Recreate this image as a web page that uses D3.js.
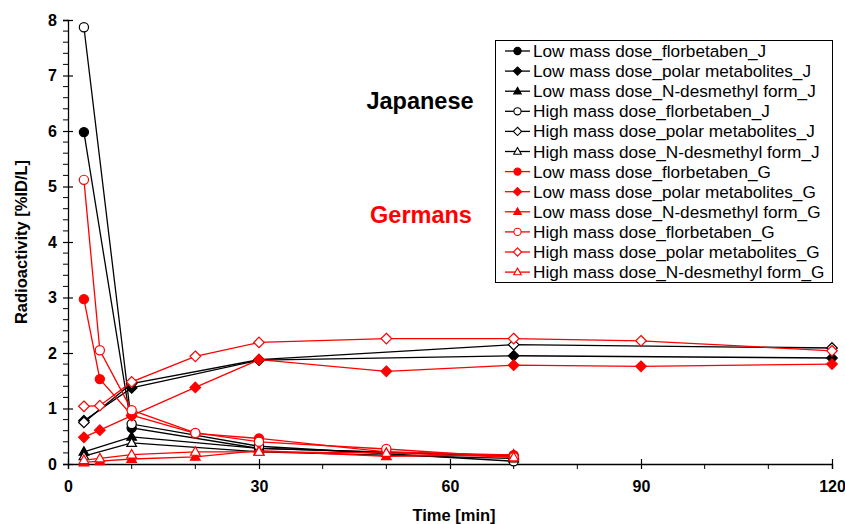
<!DOCTYPE html>
<html><head><meta charset="utf-8">
<script src="https://cdn.jsdelivr.net/npm/d3@7"></script>
<style>body{margin:0;background:#fff}svg{display:block;font-family:"Liberation Sans",Arial,sans-serif}</style>
</head><body><svg id="c" width="845" height="524"></svg>
<script>
const timesJ = [2.5, 10, 30, 70];
const timesJpolar = [2.5, 10, 30, 70, 120];
const timesG = [2.5, 5, 10, 20, 30, 50, 70];
const timesGpolar = [2.5, 5, 10, 20, 30, 50, 70, 90, 120];

const lowFlorJ   = [5.98, 0.65, 0.28, 0.14];
const lowPolarJ  = [0.78, 1.37, 1.87, 1.95, 1.91];
const lowNdesJ   = [0.22, 0.49, 0.28, 0.15];
const highFlorJ  = [7.87, 0.72, 0.32, 0.05];
const highPolarJ = [0.75, 1.45, 1.88, 2.15, 2.09];
const highNdesJ  = [0.14, 0.38, 0.22, 0.10];

const lowFlorG   = [2.97, 1.53, 0.88, 0.55, 0.46, 0.22, 0.16];
const lowPolarG  = [0.48, 0.61, 0.87, 1.38, 1.88, 1.67, 1.78, 1.76, 1.80];
const lowNdesG   = [0.03, 0.05, 0.09, 0.13, 0.24, 0.14, 0.17];
const highFlorG  = [5.12, 2.05, 0.97, 0.56, 0.40, 0.27, 0.12];
const highPolarG = [1.04, 1.05, 1.48, 1.94, 2.19, 2.26, 2.26, 2.22, 2.04];
const highNdesG  = [0.07, 0.10, 0.17, 0.22, 0.22, 0.20, 0.12];

const seriesNames = [
 "Low mass dose_florbetaben_J","Low mass dose_polar metabolites_J","Low mass dose_N-desmethyl form_J",
 "High mass dose_florbetaben_J","High mass dose_polar metabolites_J","High mass dose_N-desmethyl form_J",
 "Low mass dose_florbetaben_G","Low mass dose_polar metabolites_G","Low mass dose_N-desmethyl form_G",
 "High mass dose_florbetaben_G","High mass dose_polar metabolites_G","High mass dose_N-desmethyl form_G"];
const xTicks = [0, 30, 60, 90, 120];
const yTicks = [0,1,2,3,4,5,6,7,8];

const series = [
 {t:timesJ, v:lowFlorJ, color:"#000", shape:"circle", fill:true},
 {t:timesJpolar, v:lowPolarJ, color:"#000", shape:"diamond", fill:true},
 {t:timesJ, v:lowNdesJ, color:"#000", shape:"triangle", fill:true},
 {t:timesJ, v:highFlorJ, color:"#000", shape:"circle", fill:false},
 {t:timesJpolar, v:highPolarJ, color:"#000", shape:"diamond", fill:false},
 {t:timesJ, v:highNdesJ, color:"#000", shape:"triangle", fill:false},
 {t:timesG, v:lowFlorG, color:"#ff0000", shape:"circle", fill:true},
 {t:timesGpolar, v:lowPolarG, color:"#ff0000", shape:"diamond", fill:true},
 {t:timesG, v:lowNdesG, color:"#ff0000", shape:"triangle", fill:true},
 {t:timesG, v:highFlorG, color:"#ff0000", shape:"circle", fill:false},
 {t:timesGpolar, v:highPolarG, color:"#ff0000", shape:"diamond", fill:false},
 {t:timesG, v:highNdesG, color:"#ff0000", shape:"triangle", fill:false}
].map((s,i)=>({...s, name:seriesNames[i]}));

const svg = d3.select("#c");
const x = d3.scaleLinear().domain([0,120]).range([68,832]);
const y = d3.scaleLinear().domain([0,8]).range([464,20]);

function shapePath(shape, s){
  if(shape==="circle") return d3.symbol(d3.symbolCircle, s*s*Math.PI)();
  if(shape==="diamond") return `M0,${-s*1.15}L${s*1.15},0L0,${s*1.15}L${-s*1.15},0Z`;
  return `M0,${-s*1.1}L${s*1.05},${s*0.75}L${-s*1.05},${s*0.75}Z`;
}

// axes
const yAxis = d3.axisLeft(y).tickValues(yTicks).tickFormat(d3.format("d")).tickSize(5).tickPadding(6);
const gy = svg.append("g").attr("transform","translate(68,0)").call(yAxis);
gy.select(".domain").attr("stroke","#000").attr("stroke-width",1.3);
gy.selectAll(".tick line").attr("x2",5).attr("x1",-5).attr("stroke-width",1.2);
gy.selectAll("text").attr("font-size",16).attr("font-weight","bold").attr("fill","#000");
// minor y ticks
svg.append("g").selectAll("line").data(d3.range(0,8.001,0.2).filter(v=>Math.abs(v-Math.round(v))>0.01))
 .join("line").attr("x1",63).attr("x2",68).attr("y1",d=>y(d)).attr("y2",d=>y(d)).attr("stroke","#000").attr("stroke-width",1);

const xAxis = d3.axisBottom(x).tickValues(xTicks).tickFormat(d3.format("d")).tickSize(5).tickPadding(12);
const gx = svg.append("g").attr("transform","translate(0,464)").call(xAxis);
gx.select(".domain").attr("stroke","#000").attr("stroke-width",1.3);
gx.selectAll(".tick line").attr("y1",-5).attr("y2",5).attr("stroke-width",1.2);
gx.selectAll("text").attr("font-size",16).attr("font-weight","bold").attr("fill","#000");
svg.append("g").selectAll("line").data(d3.range(10,120,10).filter(v=>v%30!==0))
 .join("line").attr("x1",d=>x(d)).attr("x2",d=>x(d)).attr("y1",464).attr("y2",469).attr("stroke","#000").attr("stroke-width",1);

svg.append("text").attr("x",454).attr("y",521).attr("text-anchor","middle").attr("font-size",16.5).attr("font-weight","bold").text("Time [min]");
svg.append("text").attr("transform","translate(27,242) rotate(-90)").attr("text-anchor","middle").attr("font-size",16.5).attr("font-weight","bold").text("Radioactivity [%ID/L]");

svg.append("text").attr("x",420).attr("y",109).attr("text-anchor","middle").attr("font-size",23.5).attr("font-weight","bold").attr("fill","#000").text("Japanese");
svg.append("text").attr("x",421).attr("y",223).attr("text-anchor","middle").attr("font-size",23.5).attr("font-weight","bold").attr("fill","#ff0000").text("Germans");

// series
const line = d3.line().x(d=>x(d[0])).y(d=>y(d[1]));
series.forEach(s=>{
  const pts = s.t.map((t,i)=>[t,s.v[i]]);
  const g = svg.append("g");
  g.append("path").attr("d",line(pts)).attr("fill","none").attr("stroke",s.color).attr("stroke-width",1.3);
  g.selectAll("path.m").data(pts).join("path").attr("class","m")
   .attr("transform",d=>`translate(${x(d[0])},${y(d[1])})`)
   .attr("d",shapePath(s.shape,4.6))
   .attr("fill",s.fill?s.color:"#fff").attr("stroke",s.color).attr("stroke-width",1.2);
});

// legend
const lg = svg.append("g");
lg.append("rect").attr("x",495.5).attr("y",40.5).attr("width",337).attr("height",242).attr("fill","#fff").attr("stroke","#000").attr("stroke-width",1);
series.forEach((s,i)=>{
  const cy = 51 + i*20.1;
  lg.append("line").attr("x1",505).attr("x2",530).attr("y1",cy).attr("y2",cy).attr("stroke",s.color).attr("stroke-width",1.3);
  lg.append("path").attr("transform",`translate(517.5,${cy})`).attr("d",shapePath(s.shape,3.6))
    .attr("fill",s.fill?s.color:"#fff").attr("stroke",s.color).attr("stroke-width",1.1);
  lg.append("text").attr("x",533).attr("y",cy+6).attr("font-size",17.2).attr("fill","#000").text(s.name);
});
</script></body></html>
